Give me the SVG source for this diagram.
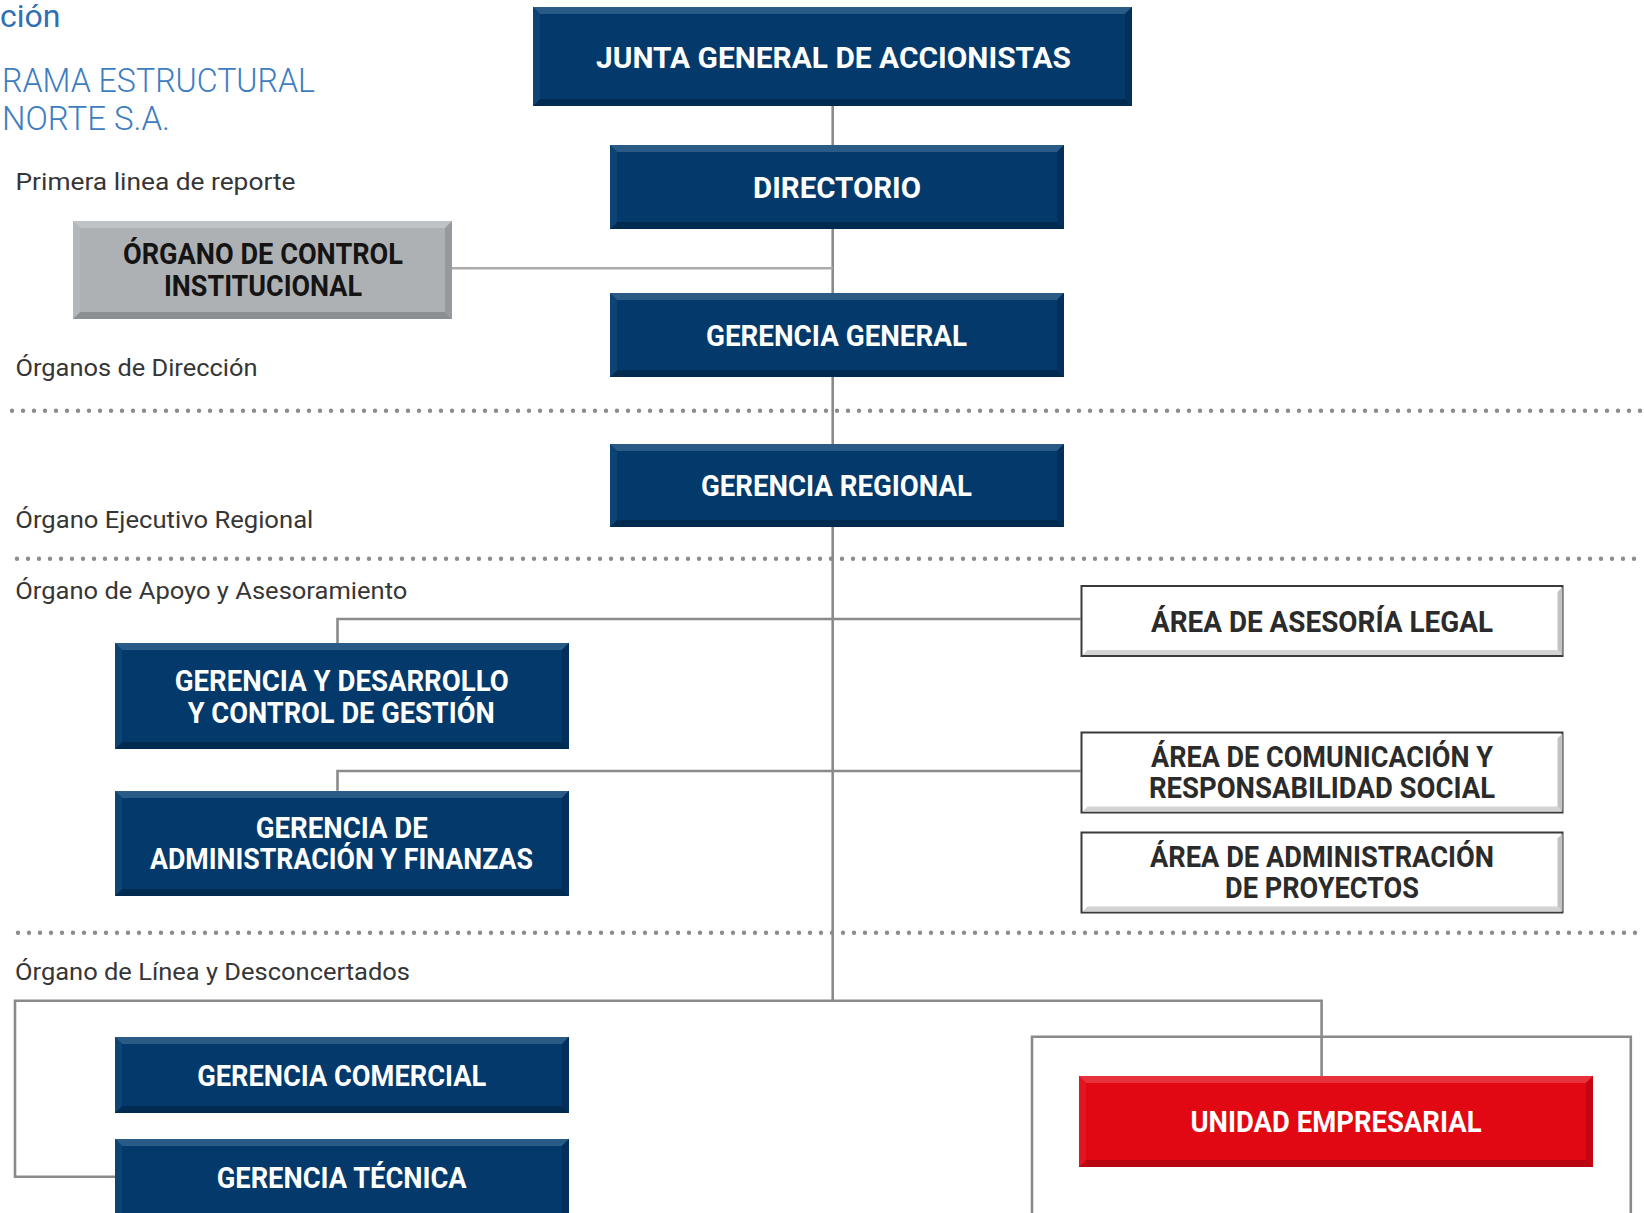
<svg xmlns="http://www.w3.org/2000/svg" width="1644" height="1213" viewBox="0 0 1644 1213">
  <style>
    .bg { fill: #ffffff; }
    .hdr { font-family: Roboto, "Liberation Sans", sans-serif; fill: #3d7dc0; font-weight: 300; }
    .sec { font-family: Roboto, "Liberation Sans", sans-serif; font-size: 23.5px; fill: #363636; }
    .lbl { font-family: Roboto, "Liberation Sans", sans-serif; font-size: 30px; font-weight: 700; text-anchor: middle; }
    .lw { fill: #ffffff; }
    .lk { fill: #141414; }
    .ld { fill: #2b2b2b; }
    .dots { fill: none; stroke: #8c8c8c; stroke-width: 4.4; stroke-linecap: round; stroke-dasharray: 0 11; }
    .link { fill: none; stroke: #8a8a8a; stroke-width: 2.6; }
    .link-lt { fill: none; stroke: #ababab; stroke-width: 2.4; }
    /* navy bevelled boxes */
    .b-fill { fill: #033a6b; }
    .b-top { fill: #2a5b86; }
    .b-left { fill: #0d4474; }
    .b-right { fill: #022f5b; }
    .b-bot { fill: #012a51; }
    /* grey bevelled box */
    .g-fill { fill: #adb1b4; }
    .g-top { fill: #c0c3c5; }
    .g-left { fill: #b4b7ba; }
    .g-right { fill: #969a9d; }
    .g-bot { fill: #8b8f92; }
    /* red bevelled box */
    .r-fill { fill: #e10713; }
    .r-top { fill: #e7323b; }
    .r-left { fill: #e41420; }
    .r-right { fill: #c50512; }
    .r-bot { fill: #b90511; }
    /* outlined boxes */
    .w-box { fill: #ffffff; stroke: #3a3a3a; stroke-width: 2; }
    .w-bot { fill: #d3d3d3; }
    .w-right { fill: #c3c3c3; }
  </style>

  <rect class="bg" x="0" y="0" width="1644" height="1213"/>

  <!-- heading -->
  <g id="heading">
    <text class="hdr" x="0" y="26.5" font-size="32" style="font-weight:400;fill:#2f6fb4">ción</text>
    <text class="hdr" x="2" y="92" font-size="33" textLength="313" lengthAdjust="spacingAndGlyphs">RAMA ESTRUCTURAL</text>
    <text class="hdr" x="2" y="130" font-size="33">NORTE S.A.</text>
  </g>

  <!-- level captions -->
  <g id="captions">
    <text class="sec" x="15.5" y="189.5" textLength="280" lengthAdjust="spacingAndGlyphs">Primera linea de reporte</text>
    <text class="sec" x="15.5" y="376" textLength="242" lengthAdjust="spacingAndGlyphs">Órganos de Dirección</text>
    <text class="sec" x="15.3" y="528.3" textLength="298" lengthAdjust="spacingAndGlyphs">Órgano Ejecutivo Regional</text>
    <text class="sec" x="15.3" y="599.3" textLength="392" lengthAdjust="spacingAndGlyphs">Órgano de Apoyo y Asesoramiento</text>
    <text class="sec" x="15" y="980" textLength="395" lengthAdjust="spacingAndGlyphs">Órgano de Línea y Desconcertados</text>
  </g>

  <!-- dotted level separators -->
  <g id="separators">
    <line class="dots" x1="12" y1="410.7" x2="1644" y2="410.7"/>
    <line class="dots" x1="17" y1="558.7" x2="1644" y2="558.7"/>
    <line class="dots" x1="18" y1="932.7" x2="1644" y2="932.7"/>
  </g>

  <!-- reporting lines -->
  <g id="connectors">
    <path class="link" d="M832.7,106 V1000.7"/>
    <path class="link-lt" d="M452,268.3 H832.7"/>
    <path class="link" d="M337.5,643.3 V619 H1080.5"/>
    <path class="link" d="M337.5,790.7 V771 H1080.5"/>
    <path class="link" d="M115,1176.7 H15 V1000.7 H1321.6 V1076"/>
    <path class="link" d="M1032,1213 V1036.7 H1630.8 V1213"/>
  </g>

  <g id="junta">
    <rect class="b-fill" x="533" y="7" width="599" height="99"/>
    <polygon class="b-top" points="533,7 1132,7 1125,14 540,14"/>
    <polygon class="b-bot" points="533,106 1132,106 1125,99 540,99"/>
    <polygon class="b-left" points="533,7 540,14 540,99 533,106"/>
    <polygon class="b-right" points="1132,7 1125,14 1125,99 1132,106"/>
    <text class="lbl lw" x="833.5" y="68" textLength="475" lengthAdjust="spacingAndGlyphs">JUNTA GENERAL DE ACCIONISTAS</text>
  </g>

  <g id="directorio">
    <rect class="b-fill" x="610" y="145" width="454" height="84"/>
    <polygon class="b-top" points="610,145 1064,145 1057,152 617,152"/>
    <polygon class="b-bot" points="610,229 1064,229 1057,222 617,222"/>
    <polygon class="b-left" points="610,145 617,152 617,222 610,229"/>
    <polygon class="b-right" points="1064,145 1057,152 1057,222 1064,229"/>
    <text class="lbl lw" x="837" y="198" textLength="168" lengthAdjust="spacingAndGlyphs">DIRECTORIO</text>
  </g>

  <g id="gerencia-general">
    <rect class="b-fill" x="610" y="293" width="454" height="84"/>
    <polygon class="b-top" points="610,293 1064,293 1057,300 617,300"/>
    <polygon class="b-bot" points="610,377 1064,377 1057,370 617,370"/>
    <polygon class="b-left" points="610,293 617,300 617,370 610,377"/>
    <polygon class="b-right" points="1064,293 1057,300 1057,370 1064,377"/>
    <text class="lbl lw" x="836.5" y="345.5" textLength="261" lengthAdjust="spacingAndGlyphs">GERENCIA GENERAL</text>
  </g>

  <g id="gerencia-regional">
    <rect class="b-fill" x="610" y="444" width="454" height="83"/>
    <polygon class="b-top" points="610,444 1064,444 1057,451 617,451"/>
    <polygon class="b-bot" points="610,527 1064,527 1057,520 617,520"/>
    <polygon class="b-left" points="610,444 617,451 617,520 610,527"/>
    <polygon class="b-right" points="1064,444 1057,451 1057,520 1064,527"/>
    <text class="lbl lw" x="836.5" y="496.4" textLength="271" lengthAdjust="spacingAndGlyphs">GERENCIA REGIONAL</text>
  </g>

  <g id="organo-control">
    <rect class="g-fill" x="73" y="221" width="379" height="98"/>
    <polygon class="g-top" points="73,221 452,221 445,228 80,228"/>
    <polygon class="g-bot" points="73,319 452,319 445,312 80,312"/>
    <polygon class="g-left" points="73,221 80,228 80,312 73,319"/>
    <polygon class="g-right" points="452,221 445,228 445,312 452,319"/>
    <text class="lbl lk" x="263" y="264.3" textLength="280" lengthAdjust="spacingAndGlyphs">ÓRGANO DE CONTROL</text>
    <text class="lbl lk" x="263" y="295.7" textLength="198" lengthAdjust="spacingAndGlyphs">INSTITUCIONAL</text>
  </g>

  <g id="gerencia-desarrollo">
    <rect class="b-fill" x="115" y="643" width="454" height="106"/>
    <polygon class="b-top" points="115,643 569,643 562,650 122,650"/>
    <polygon class="b-bot" points="115,749 569,749 562,742 122,742"/>
    <polygon class="b-left" points="115,643 122,650 122,742 115,749"/>
    <polygon class="b-right" points="569,643 562,650 562,742 569,749"/>
    <text class="lbl lw" x="341.8" y="691" textLength="334" lengthAdjust="spacingAndGlyphs">GERENCIA Y DESARROLLO</text>
    <text class="lbl lw" x="341.2" y="722.7" textLength="307" lengthAdjust="spacingAndGlyphs">Y CONTROL DE GESTIÓN</text>
  </g>

  <g id="gerencia-finanzas">
    <rect class="b-fill" x="115" y="791" width="454" height="105"/>
    <polygon class="b-top" points="115,791 569,791 562,798 122,798"/>
    <polygon class="b-bot" points="115,896 569,896 562,889 122,889"/>
    <polygon class="b-left" points="115,791 122,798 122,889 115,896"/>
    <polygon class="b-right" points="569,791 562,798 562,889 569,896"/>
    <text class="lbl lw" x="341.8" y="837.7" textLength="172" lengthAdjust="spacingAndGlyphs">GERENCIA DE</text>
    <text class="lbl lw" x="341.5" y="869.3" textLength="383" lengthAdjust="spacingAndGlyphs">ADMINISTRACIÓN Y FINANZAS</text>
  </g>

  <g id="gerencia-comercial">
    <rect class="b-fill" x="115" y="1037" width="454" height="76"/>
    <polygon class="b-top" points="115,1037 569,1037 562,1044 122,1044"/>
    <polygon class="b-bot" points="115,1113 569,1113 562,1106 122,1106"/>
    <polygon class="b-left" points="115,1037 122,1044 122,1106 115,1113"/>
    <polygon class="b-right" points="569,1037 562,1044 562,1106 569,1113"/>
    <text class="lbl lw" x="341.7" y="1085.7" textLength="289" lengthAdjust="spacingAndGlyphs">GERENCIA COMERCIAL</text>
  </g>

  <g id="gerencia-tecnica">
    <rect class="b-fill" x="115" y="1139" width="454" height="100"/>
    <polygon class="b-top" points="115,1139 569,1139 562,1146 122,1146"/>
    <polygon class="b-left" points="115,1139 122,1146 122,1232 115,1239"/>
    <polygon class="b-right" points="569,1139 562,1146 562,1232 569,1239"/>
    <text class="lbl lw" x="341.7" y="1187.7" textLength="250" lengthAdjust="spacingAndGlyphs">GERENCIA TÉCNICA</text>
  </g>

  <g id="area-legal">
    <rect class="w-box" x="1081.5" y="586" width="481" height="70"/>
    <polygon class="w-bot" points="1082.5,655 1562.5,655 1557.5,650 1087.5,650"/>
    <polygon class="w-right" points="1562.5,587 1562.5,655 1557.5,650 1557.5,592"/>
    <text class="lbl ld" x="1322" y="631.7" textLength="342" lengthAdjust="spacingAndGlyphs">ÁREA DE ASESORÍA LEGAL</text>
  </g>

  <g id="area-comunicacion">
    <rect class="w-box" x="1081.5" y="732.5" width="481" height="80"/>
    <polygon class="w-bot" points="1082.5,811.5 1562.5,811.5 1557.5,806.5 1087.5,806.5"/>
    <polygon class="w-right" points="1562.5,733.5 1562.5,811.5 1557.5,806.5 1557.5,738.5"/>
    <text class="lbl ld" x="1322" y="766.7" textLength="342" lengthAdjust="spacingAndGlyphs">ÁREA DE COMUNICACIÓN Y</text>
    <text class="lbl ld" x="1322" y="798.3" textLength="346" lengthAdjust="spacingAndGlyphs">RESPONSABILIDAD SOCIAL</text>
  </g>

  <g id="area-proyectos">
    <rect class="w-box" x="1081.5" y="832.5" width="481" height="80"/>
    <polygon class="w-bot" points="1082.5,911.5 1562.5,911.5 1557.5,906.5 1087.5,906.5"/>
    <polygon class="w-right" points="1562.5,833.5 1562.5,911.5 1557.5,906.5 1557.5,838.5"/>
    <text class="lbl ld" x="1322" y="866.7" textLength="344" lengthAdjust="spacingAndGlyphs">ÁREA DE ADMINISTRACIÓN</text>
    <text class="lbl ld" x="1322" y="898.3" textLength="194" lengthAdjust="spacingAndGlyphs">DE PROYECTOS</text>
  </g>

  <g id="unidad-empresarial">
    <rect class="r-fill" x="1079" y="1076" width="514" height="91"/>
    <polygon class="r-top" points="1079,1076 1593,1076 1586,1083 1086,1083"/>
    <polygon class="r-bot" points="1079,1167 1593,1167 1586,1160 1086,1160"/>
    <polygon class="r-left" points="1079,1076 1086,1083 1086,1160 1079,1167"/>
    <polygon class="r-right" points="1593,1076 1586,1083 1586,1160 1593,1167"/>
    <text class="lbl lw" x="1336" y="1131.7" textLength="291" lengthAdjust="spacingAndGlyphs">UNIDAD EMPRESARIAL</text>
  </g>
</svg>
